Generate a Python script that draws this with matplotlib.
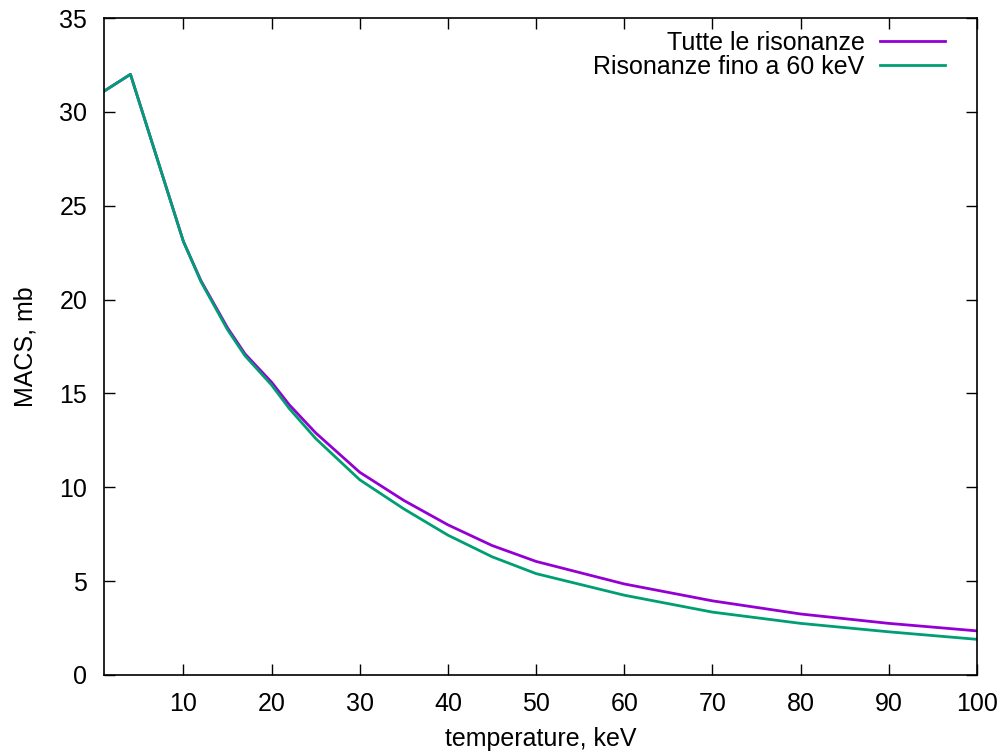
import matplotlib
matplotlib.use("Agg")
from matplotlib import pyplot as plt

# temperature (keV) and MACS (mb)
temp = [1, 4, 10, 12, 15, 17, 20, 22, 25, 30, 35, 40, 45, 50, 60, 70, 80, 90, 100]
macs_all = [31.1, 32.0, 23.1, 21.0, 18.5, 17.1, 15.6, 14.4, 12.9, 10.8, 9.3, 8.0, 6.9, 6.05, 4.85, 3.95, 3.25, 2.75, 2.35]
macs_60 = [31.1, 32.0, 23.1, 20.95, 18.4, 17.0, 15.45, 14.2, 12.6, 10.4, 8.85, 7.45, 6.3, 5.4, 4.25, 3.35, 2.75, 2.3, 1.9]

plt.rcParams['font.family'] = ['Liberation Sans', 'DejaVu Sans']
fs = 18

fig = plt.figure(figsize=(10.02, 7.53), dpi=100)
ax = fig.add_axes([104/1002, 1 - 675/753, (977-104)/1002, (675-18)/753])

ax.plot(temp, macs_all, color='#9400d3', lw=2.0, label='Tutte le risonanze')
ax.plot(temp, macs_60, color='#009e73', lw=2.0, label='Risonanze fino a 60 keV')

ax.set_xlim(1, 100)
ax.set_ylim(0, 35)
ax.set_xticks(range(10, 101, 10))
ax.set_yticks(range(0, 36, 5))
ax.tick_params(direction='in', top=True, right=True, length=8, width=1, labelsize=fs, pad=12)
for s in ax.spines.values():
    s.set_linewidth(1.2)

ax.set_xlabel('temperature, keV', fontsize=fs, labelpad=8)
ax.set_ylabel('MACS, mb', fontsize=fs, labelpad=16)

ax.legend(loc='upper right', bbox_to_anchor=(1, 1.03), frameon=False, markerfirst=False,
          fontsize=fs, handlelength=2.6, labelspacing=0.0, borderaxespad=0.9, handletextpad=0.6)

fig.savefig('out.png', dpi=100)
